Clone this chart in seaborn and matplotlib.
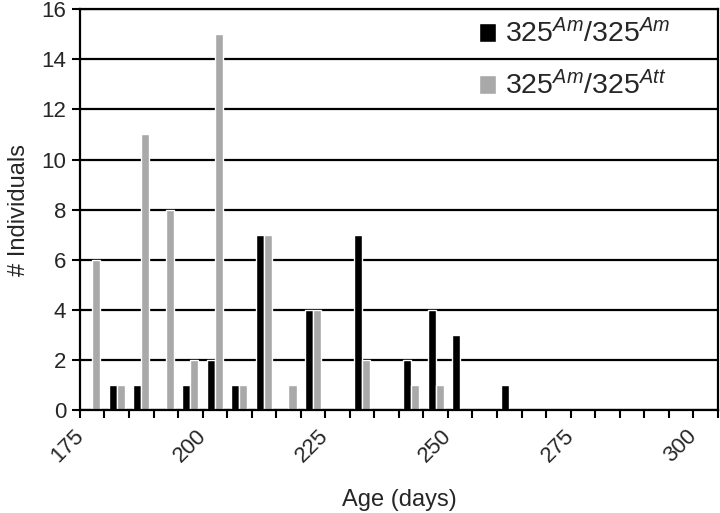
"""
Age distribution of individuals per genotype (5-day bins).
"""

import matplotlib
import pandas as pd
import seaborn as sns

matplotlib.use("Agg")
import matplotlib.pyplot as plt
import matplotlib.transforms as mtransforms
from matplotlib.ticker import FixedLocator

# bin start (days), 5-day bins from 175 to 305
BIN_STARTS = list(range(175, 305, 5))
GENOTYPES = ["Am/Am", "Am/Att"]
COUNTS_AM_AM = [0, 1, 1, 0, 1, 2, 1, 7, 0, 4, 0, 7, 0, 2, 4, 3, 0, 1, 0, 0, 0, 0, 0, 0, 0, 0]
COUNTS_AM_ATT = [6, 1, 11, 8, 2, 15, 1, 7, 1, 4, 0, 2, 0, 1, 1, 0, 0, 0, 0, 0, 0, 0, 0, 0, 0, 0]
LEGEND_LABELS = [r"$\mathit{325^{Am}/325^{Am}}$", r"$\mathit{325^{Am}/325^{Att}}$"]
TICK_LABELS = ["175", "200", "225", "250", "275", "300"]
COLORS = ["#000000", "#a9a9a9"]


def build_frame() -> pd.DataFrame:
    rows = []
    for genotype, counts in zip(GENOTYPES, [COUNTS_AM_AM, COUNTS_AM_ATT]):
        for start, n in zip(BIN_STARTS, counts):
            rows.append({"bin": str(start), "genotype": genotype, "count": n})
    return pd.DataFrame(rows)


def main() -> None:
    sns.set_style("white")
    plt.rcParams.update(
        {
            "font.family": ["Liberation Sans", "DejaVu Sans"],
            "mathtext.fontset": "custom",
            "mathtext.it": "Liberation Sans:italic",
            "mathtext.rm": "Liberation Sans",
            "mathtext.bf": "Liberation Sans:bold",
        }
    )

    df = build_frame()

    fig = plt.figure(figsize=(7.2, 5.13), dpi=100)
    ax = fig.add_axes([0.111, 0.2008, 0.886, 0.7812])

    sns.barplot(
        data=df, x="bin", y="count", hue="genotype",
        order=[str(s) for s in BIN_STARTS], hue_order=GENOTYPES,
        palette=COLORS, width=0.66, saturation=1, ax=ax,
    )

    ax.set_xlim(-0.5, len(BIN_STARTS) - 0.5)
    ax.set_ylim(0, 16)
    ax.set_yticks(range(0, 17, 2))
    ax.yaxis.grid(True, color="black", linewidth=1.6)
    ax.set_axisbelow(True)

    # ticks sit on bin boundaries, labels every 25 days
    ax.xaxis.set_major_locator(FixedLocator([-0.5 + 5 * k for k in range(6)]))
    ax.set_xticklabels(TICK_LABELS, rotation=45, ha="right", rotation_mode="anchor")
    ax.xaxis.set_minor_locator(FixedLocator([-0.5 + k for k in range(len(BIN_STARTS) + 1)]))
    ax.tick_params(axis="x", which="both", direction="out", length=6, width=1.5,
                   bottom=True, labelsize=16, pad=5, color="black")
    ax.tick_params(axis="y", direction="out", length=6, width=1.5, left=True,
                   labelsize=16, pad=4, color="black")

    # nudge rotated labels so their ends sit under the ticks
    shift = mtransforms.ScaledTranslation(-7 / 100, 0, fig.dpi_scale_trans)
    for lbl in ax.get_xticklabels():
        lbl.set_transform(lbl.get_transform() + shift)

    for spine in ax.spines.values():
        spine.set_visible(True)
        spine.set_color("black")
        spine.set_linewidth(1.6)

    ax.set_xlabel("Age (days)", fontsize=17, labelpad=16)
    ax.set_ylabel("# Individuals", fontsize=17, labelpad=8)

    handles, _ = ax.get_legend_handles_labels()
    ax.legend(
        handles, LEGEND_LABELS, loc="upper right", bbox_to_anchor=(0.965, 1.04),
        frameon=False, fontsize=20.5, handlelength=0.6, handleheight=0.65,
        handletextpad=0.32, labelspacing=0.8,
    )

    fig.savefig("out.png", dpi=100)
    plt.close(fig)


if __name__ == "__main__":
    main()
